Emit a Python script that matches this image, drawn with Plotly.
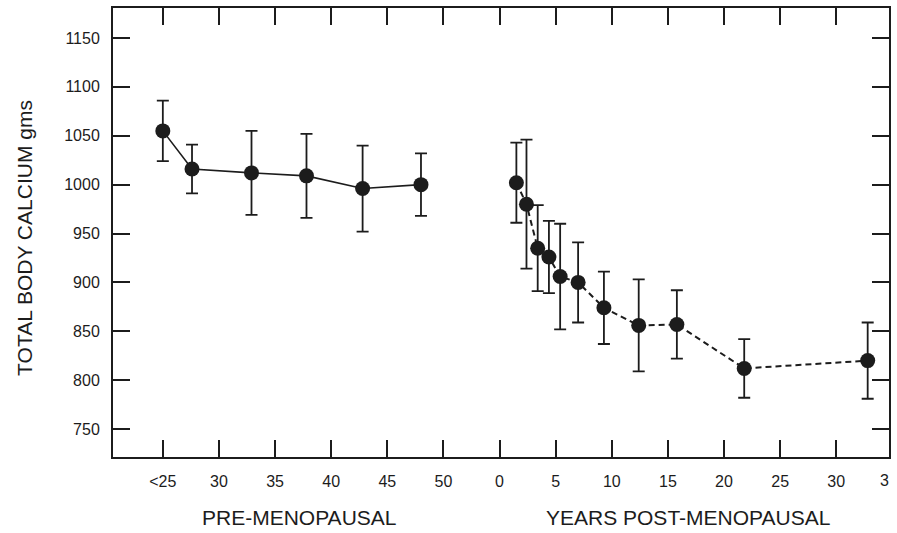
import plotly.graph_objects as go

# Pre-menopausal group: age (years) vs total body calcium (g), mean and error
pre_age = [25.0, 27.6, 32.9, 37.8, 42.8, 48.0]
pre_mean = [1055, 1016, 1012, 1009, 996, 1000]
pre_err = [31, 25, 43, 43, 44, 32]

# Post-menopausal group: years since menopause
post_years = [1.5, 2.4, 3.4, 4.4, 5.4, 7.0, 9.3, 12.4, 15.8, 21.8, 32.8]
post_mean = [1002, 980, 935, 926, 906, 900, 874, 856, 857, 812, 820]
post_err = [41, 66, 44, 37, 54, 41, 37, 47, 35, 30, 39]

# Shared x axis: ages 25..50 followed by post-menopausal years 0..35
PRE_START = 25
POST_OFFSET = 30
tick_pos = list(range(0, 65, 5))
tick_text = ["<25", "30", "35", "40", "45", "50",
             "0", "5", "10", "15", "20", "25", "30"]
y_ticks = [750, 800, 850, 900, 950, 1000, 1050, 1100, 1150]

pre_x = [a - PRE_START for a in pre_age]
post_x = [POST_OFFSET + t for t in post_years]

INK = "#1c1c1c"
FONT = "Liberation Sans, Arial, sans-serif"

fig = go.Figure()

fig.add_trace(go.Scatter(
    x=pre_x, y=pre_mean, mode="lines+markers",
    line=dict(color=INK, width=1.6),
    marker=dict(color=INK, size=15),
    error_y=dict(type="data", array=pre_err, visible=True,
                 color=INK, thickness=1.8, width=6),
    showlegend=False,
))

fig.add_trace(go.Scatter(
    x=post_x, y=post_mean, mode="lines+markers",
    line=dict(color=INK, width=2, dash="6px,4px"),
    marker=dict(color=INK, size=15),
    error_y=dict(type="data", array=post_err, visible=True,
                 color=INK, thickness=1.8, width=6),
    showlegend=False,
))

fig.update_xaxes(
    range=[-4.44, 64.7],
    tickmode="array", tickvals=tick_pos, ticktext=tick_text,
    ticks="inside", ticklen=17, tickwidth=2, tickcolor=INK,
    showline=True, linecolor=INK, linewidth=2, mirror="ticks",
    showgrid=False, zeroline=False,
    tickfont=dict(family=FONT, size=16, color=INK),
    ticklabelstandoff=9,
)
fig.update_yaxes(
    range=[721.4, 1180.7],
    tickmode="array", tickvals=y_ticks,
    ticks="inside", ticklen=17, tickwidth=2, tickcolor=INK,
    showline=True, linecolor=INK, linewidth=2, mirror="ticks",
    showgrid=False, zeroline=False,
    tickfont=dict(family=FONT, size=16, color=INK),
    ticklabelstandoff=8,
)

annotations = [
    dict(text="TOTAL BODY CALCIUM gms", xref="paper", yref="paper",
         x=0, y=0.488, xshift=-88, xanchor="center", yanchor="middle",
         textangle=-90, showarrow=False,
         font=dict(family=FONT, size=21, color=INK)),
    dict(text="PRE-MENOPAUSAL", xref="x", yref="paper",
         x=12.2, y=0, yshift=-60, xanchor="center", yanchor="middle",
         showarrow=False, font=dict(family=FONT, size=21, color=INK)),
    dict(text="YEARS POST-MENOPAUSAL", xref="x", yref="paper",
         x=46.8, y=0, yshift=-60, xanchor="center", yanchor="middle",
         showarrow=False, font=dict(family=FONT, size=21, color=INK)),
    dict(text="3", xref="paper", yref="paper",
         x=1, y=0, xshift=2, yshift=-23, xanchor="right", yanchor="middle",
         showarrow=False, font=dict(family=FONT, size=16, color=INK)),
]

fig.update_layout(
    width=897, height=533,
    margin=dict(l=113, r=6, t=8, b=76),
    paper_bgcolor="white", plot_bgcolor="white",
    annotations=annotations,
)

fig.write_html("out.html")
